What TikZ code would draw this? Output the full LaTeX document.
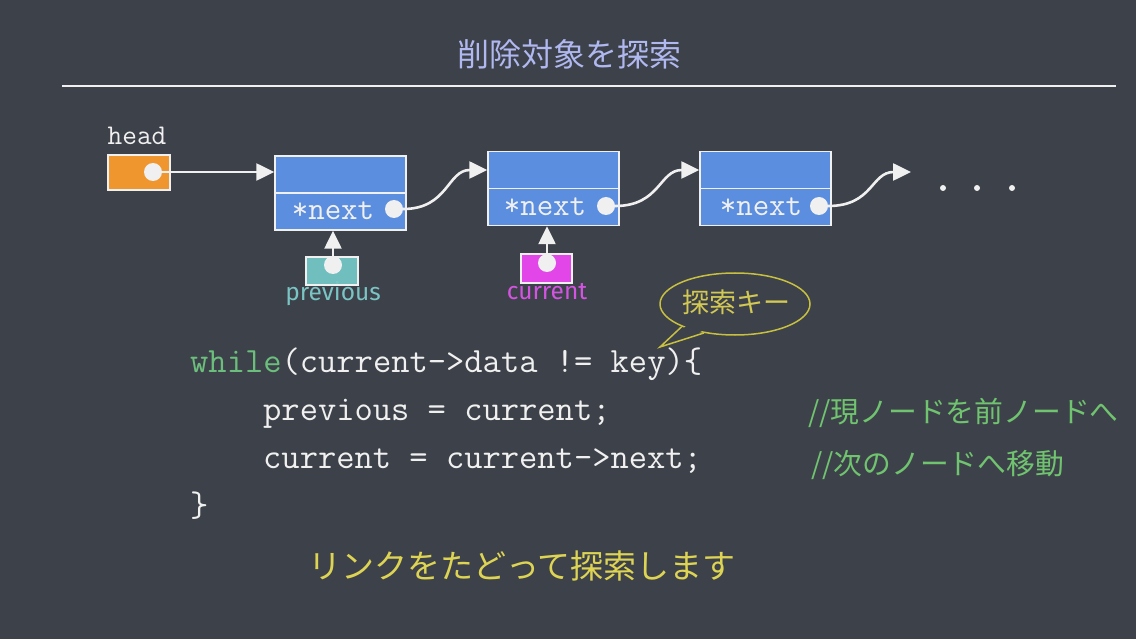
\documentclass[tikz,border=0pt]{standalone}
\usepackage{fontspec}
\newfontfamily\cjk{Noto Sans CJK JP}
\newfontfamily\labfont{Fira Sans}
\usetikzlibrary{arrows.meta,shapes.geometric,calc}
\definecolor{bg}{RGB}{61,65,73}
\definecolor{chalk}{RGB}{240,240,240}
\definecolor{titlecol}{RGB}{176,184,240}
\definecolor{nodeblue}{RGB}{92,142,224}
\definecolor{headorange}{RGB}{240,150,46}
\definecolor{tealbox}{RGB}{112,190,190}
\definecolor{tealtxt}{RGB}{122,196,196}
\definecolor{magbox}{RGB}{226,70,232}
\definecolor{magtxt}{RGB}{212,84,226}
\definecolor{bubcol}{RGB}{200,192,64}
\definecolor{bubtxt}{RGB}{210,200,84}
\definecolor{bottomtxt}{RGB}{222,212,84}
\definecolor{kwgreen}{RGB}{108,190,124}
\definecolor{cmtgreen}{RGB}{112,196,112}
\begin{document}
\begin{tikzpicture}[x=1pt,y=-1pt,
  lnode/.style={draw=chalk,line width=1.5pt,fill=nodeblue,minimum width=131pt,minimum height=37pt,inner sep=0pt},
  ptrbox/.style={draw=chalk,line width=1.2pt,inner sep=0pt},
  dot/.style={circle,fill=chalk,minimum size=18pt,inner sep=0pt},
  smalldot/.style={circle,fill=chalk,minimum size=6pt,inner sep=0pt},
  arr/.style={draw=chalk,line width=2.6pt,-{Triangle[length=18pt,width=17pt]}},
  nexttxt/.style={font=\ttfamily\fontsize{32}{36}\selectfont,text=chalk,inner sep=0pt},
  code/.style={font=\ttfamily\fontsize{35.5}{40}\selectfont,text=chalk,anchor=base west,inner sep=0pt},
  cmt/.style={font=\cjk\fontsize{28.8}{32}\selectfont,text=cmtgreen,anchor=west,inner sep=0pt},
  lab/.style={font=\labfont\fontsize{24.5}{28}\selectfont,inner sep=0pt}
]
\fill[bg] (0,0) rectangle (1136,639);
\useasboundingbox (0,0) rectangle (1136,639);

% title
\node[font=\cjk\fontsize{32}{38}\selectfont,text=titlecol] (title) at (569,54) {削除対象を探索};
\coordinate (ruleL) at (62,86);
\coordinate (ruleR) at (1116,86);
\draw[chalk,line width=2.5pt] (ruleL) -- (ruleR);

% head
\node[font=\ttfamily\fontsize{28.5}{32}\selectfont,text=chalk,inner sep=0pt] (headl) at (137,136) {head};
\node[ptrbox,fill=headorange,minimum width=62pt,minimum height=35pt] (hbox) at (139,172.5) {};
\node[dot] (hd) at (153,172) {};

% list nodes
\node[lnode] (n1t) at (340.5,174.5) {};
\node[lnode] (n1b) at (340.5,211.5) {};
\node[lnode] (n2t) at (553.5,170) {};
\node[lnode] (n2b) at (553.5,207) {};
\node[lnode] (n3t) at (765.5,170) {};
\node[lnode] (n3b) at (765.5,207) {};

\node[nexttxt] (t1) at (333,211) {*next};
\node[nexttxt] (t2) at (545,207) {*next};
\node[nexttxt] (t3) at (761,207) {*next};

\node[dot] (d1) at (394,209) {};
\node[dot] (d2) at (606,206) {};
\node[dot] (d3) at (819,206) {};

\coordinate (e3) at (911,172);

\draw[arr] (hd) -- (hd -| n1t.west);
\draw[arr] (d1.east) .. controls +(45,0) and +(-40,0) .. (n2t.west);
\draw[arr] (d2.east) .. controls +(45,0) and +(-40,0) .. (n3t.west);
\draw[arr] (d3.east) .. controls +(45,0) and +(-40,0) .. (e3);

\node[smalldot] (el1) at (943,188) {};
\node[smalldot] (el2) at (977,188) {};
\node[smalldot] (el3) at (1012,188) {};

% previous
\node[ptrbox,fill=tealbox,minimum width=52pt,minimum height=28pt] (pv) at (332,271) {};
\node[dot] (pd) at (333,265) {};
\draw[arr] (pd) -- (pd |- n1b.south);
\node[lab,text=tealtxt] (pvl) at (333,294) {previous};

% current
\node[ptrbox,fill=magbox,minimum width=51pt,minimum height=29pt] (cu) at (546.5,268.5) {};
\node[dot] (cd) at (547,263) {};
\draw[arr] (cd) -- (cd |- n2b.south);
\node[lab,text=magtxt] (cul) at (547,292) {current};

% bubble
\node[ellipse,draw=bubcol,line width=1.5pt,fill=bg,minimum width=150pt,minimum height=62pt,inner sep=0pt] (bub) at (735,304) {};
\coordinate (tip) at (660,347);
\fill[bg] ($(bub.center)!0.85!(bub.203)$) -- (tip) -- ($(bub.center)!0.85!(bub.223)$) -- cycle;
\draw[bubcol,line width=1.5pt,line join=miter] (bub.203) -- (tip) -- (bub.223);
\node[font=\cjk\fontsize{27}{32}\selectfont,text=bubtxt,inner sep=0pt] (bubt) at (736,302) {探索キー};

% code
\node[code] (c1) at (190,372) {\textcolor{kwgreen}{while}(current->data != key)\{};
\node[code] (c2) at (263,420) {previous = current;};
\node[code] (c3) at (263,468) {current = current->next;};
\node[code] (c4) at (190,516) {\}};

% comments
\node[cmt] (m1) at (808,413) {//現ノードを前ノードへ};
\node[cmt] (m2) at (811,465) {//次のノードへ移動};

% bottom
\node[font=\cjk\fontsize{33}{38}\selectfont,text=bottomtxt,inner sep=0pt] (bot) at (522,566) {リンクをたどって探索します};
\end{tikzpicture}
\end{document}
